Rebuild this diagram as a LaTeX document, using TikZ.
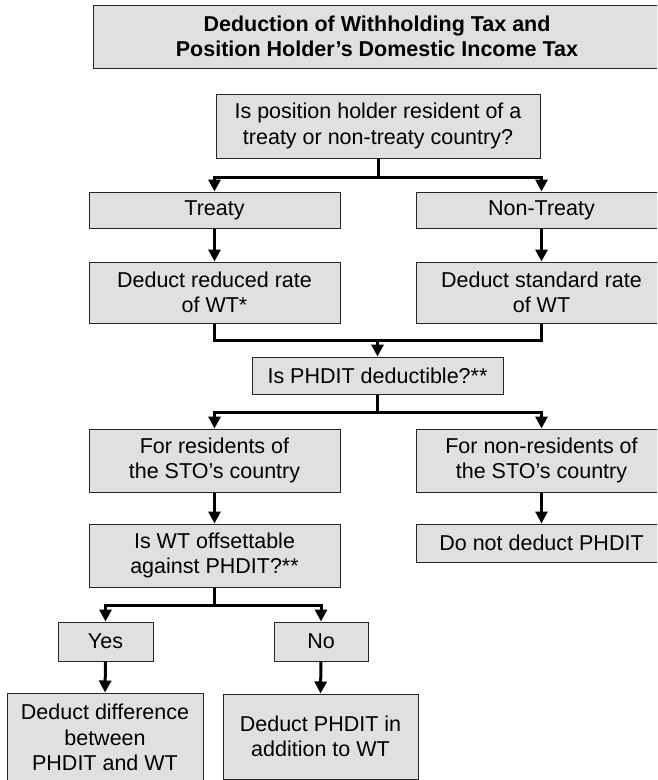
\documentclass[tikz,border=0pt]{standalone}
\usepackage{fontspec}
\setmainfont{Liberation Sans}
\usetikzlibrary{arrows.meta}
\begin{document}
\begin{tikzpicture}[x=1pt, y=-1pt,
  box/.style={draw=black!85, line width=1pt, fill=black!12, inner sep=0pt,
    align=center, font=\fontsize{21.5}{25.5}\selectfont},
  conn/.style={line width=3pt, -{Triangle[width=12pt,length=12pt]}},
  link/.style={line width=3pt}]
  \useasboundingbox (0,0) rectangle (657,780);
  \clip (0,0) rectangle (657,780);
  % title
  \node[box, minimum width=568, minimum height=63, font=\fontsize{21.5}{25.5}\selectfont\bfseries]
    (title) at (377,36.5) {Deduction of Withholding Tax and\\Position Holder’s Domestic Income Tax};
  % treaty or not
  \node[box, minimum width=324, minimum height=64] (resq) at (378,126)
    {Is position holder resident of a\\treaty or non-treaty country?};
  \node[box, minimum width=251, minimum height=36] (treaty) at (214.5,210) {Treaty};
  \node[box, minimum width=251, minimum height=36] (nontreaty) at (541.5,210) {Non-Treaty};
  \node[box, minimum width=251, minimum height=61] (reduced) at (214.5,292.5)
    {Deduct reduced rate\\of WT*};
  \node[box, minimum width=251, minimum height=61] (standard) at (541.5,292.5)
    {Deduct standard rate\\of WT};
  \coordinate (split1) at (378,177);
  \draw[link] (resq.south) -- (split1);
  \draw[conn] (split1) -| (treaty.north);
  \draw[conn] (split1) -| (nontreaty.north);
  \draw[conn] (treaty.south) -- (reduced.north);
  \draw[conn] (nontreaty.south) -- (standard.north);
  % phdit
  \node[box, minimum width=251, minimum height=37] (phditq) at (377.5,375.5)
    {Is PHDIT deductible?**};
  \coordinate (join1) at (377.5,340);
  \draw[link] (reduced.south) |- (join1) -| (standard.south);
  \draw[conn] (join1) -- (phditq.north);
  \node[box, minimum width=251, minimum height=63] (resident) at (214.5,460.5)
    {For residents of\\the STO’s country};
  \node[box, minimum width=251, minimum height=63] (nonresident) at (541.5,460.5)
    {For non-residents of\\the STO’s country};
  \coordinate (split2) at (377.5,412);
  \draw[link] (phditq.south) -- (split2);
  \draw[conn] (split2) -| (resident.north);
  \draw[conn] (split2) -| (nonresident.north);
  % non-residents
  \node[box, minimum width=251, minimum height=38] (nodeduct) at (541.5,543)
    {Do not deduct PHDIT};
  \draw[conn] (nonresident.south) -- (nodeduct.north);
  % residents
  \node[box, minimum width=251, minimum height=63] (offsetq) at (214.5,555.5)
    {Is WT offsettable\\against PHDIT?**};
  \draw[conn] (resident.south) -- (offsetq.north);
  \node[box, minimum width=95, minimum height=39] (yes) at (105.5,641.5) {Yes};
  \node[box, minimum width=94, minimum height=39] (no) at (321,641.5) {No};
  \coordinate (split3) at (214.5,605);
  \draw[link] (offsetq.south) -- (split3);
  \draw[conn] (split3) -| (yes.north);
  \draw[conn] (split3) -| (no.north);
  \node[box, minimum width=196, minimum height=89] (diff) at (105,737.5)
    {Deduct difference\\between\\PHDIT and WT};
  \node[box, minimum width=195, minimum height=85] (inaddition) at (320.5,736.5)
    {Deduct PHDIT in\\addition to WT};
  \draw[conn] (yes.south) -- (diff.north);
  \draw[conn] (no.south) -- (inaddition.north);
\end{tikzpicture}
\end{document}
